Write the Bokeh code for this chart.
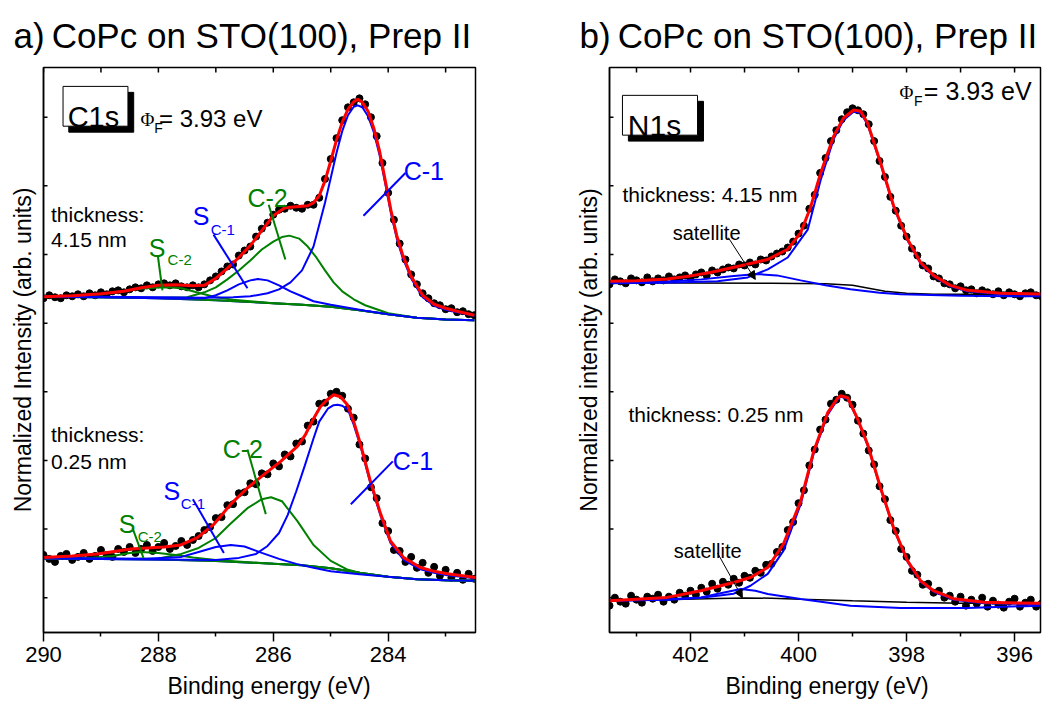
from bokeh.plotting import figure
from bokeh.models import Range1d, FixedTicker, Arrow, NormalHead, Title
from bokeh.layouts import row
from bokeh.embed import file_html
from bokeh.resources import INLINE
from bokeh.core.properties import value

FONT = "Liberation Sans"

# ---------------- C1s panel (a) ----------------
E_C = [290.0, 289.9, 289.8, 289.7, 289.6, 289.5, 289.4, 289.3, 289.2, 289.1,
       289.0, 288.9, 288.8, 288.7, 288.6, 288.5, 288.4, 288.3, 288.2, 288.1,
       288.0, 287.9, 287.8, 287.7, 287.6, 287.5, 287.4, 287.3, 287.2, 287.1,
       287.0, 286.9, 286.8, 286.7, 286.6, 286.5, 286.4, 286.3, 286.2, 286.1,
       286.0, 285.9, 285.8, 285.7, 285.6, 285.5, 285.4, 285.3, 285.2, 285.1,
       285.0, 284.9, 284.8, 284.7, 284.6, 284.5, 284.4, 284.3, 284.2, 284.1,
       284.0, 283.9, 283.8, 283.7, 283.6, 283.5, 283.4, 283.3, 283.2, 283.1,
       283.0, 282.9, 282.8, 282.7, 282.6, 282.5]

C_TOP_DATA = [3.36, 3.39, 3.37, 3.36, 3.39, 3.38, 3.40, 3.38, 3.41, 3.39,
              3.42, 3.40, 3.43, 3.44, 3.42, 3.45, 3.47, 3.46, 3.49, 3.47,
              3.50, 3.51, 3.49, 3.51, 3.48, 3.47, 3.49, 3.47, 3.50, 3.54,
              3.58, 3.63, 3.68, 3.70, 3.79, 3.84, 3.88, 3.98, 4.06, 4.12,
              4.20, 4.25, 4.26, 4.29, 4.27, 4.26, 4.30, 4.30, 4.37, 4.56,
              4.76, 4.97, 5.15, 5.28, 5.33, 5.37, 5.31, 5.18, 4.99, 4.72,
              4.42, 4.15, 3.91, 3.75, 3.60, 3.50, 3.41, 3.36, 3.31, 3.29,
              3.25, 3.26, 3.22, 3.23, 3.20, 3.19]

C_BOT_DATA = [0.78, 0.74, 0.71, 0.77, 0.79, 0.73, 0.76, 0.80, 0.74, 0.77,
              0.83, 0.78, 0.76, 0.84, 0.81, 0.86, 0.80, 0.84, 0.88, 0.82,
              0.86, 0.90, 0.84, 0.87, 0.92, 0.88, 0.93, 0.97, 1.03, 1.06,
              1.15, 1.16, 1.28, 1.29, 1.40, 1.41, 1.50, 1.49, 1.60, 1.59,
              1.70, 1.67, 1.79, 1.77, 1.90, 1.92, 2.08, 2.12, 2.30, 2.31,
              2.40, 2.42, 2.38, 2.25, 2.16, 1.89, 1.75, 1.46, 1.35, 1.10,
              1.02, 0.83, 0.82, 0.71, 0.76, 0.65, 0.70, 0.60, 0.66, 0.57,
              0.63, 0.55, 0.60, 0.53, 0.59, 0.54]

# fit envelope and components, thickness 4.15 nm
C_TOP_FIT_E = [290.0, 289.5, 289.0, 288.6, 288.3, 288.0, 287.7, 287.4, 287.2, 287.0,
               286.8, 286.6, 286.4, 286.2, 286.0, 285.8, 285.6, 285.4, 285.3, 285.2,
               285.1, 285.0, 284.9, 284.8, 284.7, 284.6, 284.53, 284.45, 284.35, 284.25,
               284.15, 284.05, 283.95, 283.85, 283.75, 283.6, 283.4, 283.2, 283.0, 282.8, 282.5]
C_TOP_FIT = [3.375, 3.385, 3.405, 3.43, 3.465, 3.49, 3.495, 3.485, 3.49, 3.56,
             3.66, 3.77, 3.89, 4.04, 4.19, 4.27, 4.28, 4.29, 4.32, 4.39,
             4.54, 4.74, 4.95, 5.13, 5.26, 5.335, 5.36, 5.33, 5.24, 5.07,
             4.84, 4.54, 4.24, 3.99, 3.80, 3.58, 3.39, 3.30, 3.26, 3.23, 3.19]
C_TOP_BG_E = [290.0, 289.0, 288.0, 287.0, 286.5, 286.0, 285.5, 285.0, 284.5, 284.0, 283.5, 283.0, 282.5]
C_TOP_BG = [3.375, 3.37, 3.36, 3.34, 3.325, 3.31, 3.295, 3.275, 3.24, 3.20, 3.165, 3.147, 3.14]
C_TOP_C1_E = [290.0, 289.0, 288.0, 287.2, 286.7, 286.4, 286.1, 285.9, 285.7, 285.5,
              285.3, 285.2, 285.1, 285.0, 284.9, 284.8, 284.7, 284.6, 284.53, 284.45,
              284.35, 284.25, 284.15, 284.05, 283.95, 283.85, 283.75, 283.6, 283.4, 283.2,
              283.0, 282.8, 282.5]
C_TOP_C1 = [3.378, 3.375, 3.37, 3.365, 3.37, 3.38, 3.41, 3.45, 3.52, 3.64,
            3.88, 4.10, 4.32, 4.57, 4.82, 5.04, 5.20, 5.285, 5.30, 5.28,
            5.19, 5.03, 4.80, 4.51, 4.21, 3.96, 3.77, 3.56, 3.37, 3.285,
            3.245, 3.22, 3.185]
C_TOP_C2_E = [290.0, 289.0, 288.0, 287.5, 287.2, 287.0, 286.8, 286.6, 286.4, 286.2,
              286.0, 285.85, 285.72, 285.55, 285.4, 285.25, 285.1, 284.95, 284.8, 284.6,
              284.4, 284.2, 284.0, 283.5, 283.0, 282.5]
C_TOP_C2 = [3.375, 3.37, 3.365, 3.37, 3.42, 3.47, 3.55, 3.64, 3.74, 3.85,
            3.93, 3.975, 3.99, 3.96, 3.88, 3.77, 3.64, 3.52, 3.43, 3.35,
            3.29, 3.25, 3.21, 3.165, 3.147, 3.14]
C_TOP_SC1_E = [290.0, 289.0, 288.0, 287.6, 287.2, 287.0, 286.8, 286.6, 286.4, 286.27,
               286.1, 285.9, 285.7, 285.5, 285.3, 285.0, 284.7, 284.4, 284.0, 283.5,
               283.0, 282.5]
C_TOP_SC1 = [3.375, 3.37, 3.36, 3.355, 3.36, 3.39, 3.44, 3.50, 3.54, 3.553,
             3.54, 3.49, 3.43, 3.38, 3.33, 3.295, 3.265, 3.235, 3.20, 3.165,
             3.147, 3.14]
C_TOP_SC2_E = [290.0, 289.4, 289.0, 288.7, 288.4, 288.2, 288.0, 287.84, 287.6, 287.4,
               287.2, 287.0, 286.7, 286.3, 286.0, 285.5, 285.0, 284.5, 284.0, 283.5,
               283.0, 282.5]
C_TOP_SC2 = [3.375, 3.385, 3.40, 3.425, 3.45, 3.46, 3.468, 3.47, 3.46, 3.43,
             3.40, 3.37, 3.345, 3.325, 3.31, 3.295, 3.275, 3.24, 3.20, 3.165,
             3.147, 3.14]

# fit envelope and components, thickness 0.25 nm
C_BOT_FIT_E = [290.0, 289.5, 289.06, 288.48, 287.9, 287.61, 287.32, 287.03, 286.74, 286.45,
               286.16, 285.87, 285.58, 285.44, 285.3, 285.18, 285.06, 284.95, 284.83, 284.71,
               284.6, 284.48, 284.31, 284.13, 283.96, 283.73, 283.44, 283.2, 282.97, 282.48]
C_BOT_FIT = [0.753, 0.77, 0.79, 0.84, 0.86, 0.88, 0.953, 1.09, 1.29, 1.453,
             1.59, 1.72, 1.87, 1.99, 2.15, 2.27, 2.34, 2.39, 2.37, 2.29,
             2.12, 1.89, 1.52, 1.19, 0.92, 0.753, 0.653, 0.615, 0.59, 0.553]
C_BOT_BG_E = [290.0, 288.0, 287.0, 286.0, 285.5, 285.0, 284.5, 284.0, 283.5, 283.0, 282.5]
C_BOT_BG = [0.745, 0.735, 0.72, 0.69, 0.675, 0.645, 0.60, 0.56, 0.535, 0.525, 0.52]
C_BOT_C1_E = [290.0, 288.0, 287.0, 286.6, 286.3, 286.1, 285.9, 285.75, 285.6, 285.45,
              285.3, 285.2, 285.05, 284.95, 284.88, 284.8, 284.7, 284.6, 284.48, 284.31,
              284.13, 283.96, 283.73, 283.44, 283.2, 282.97, 282.48]
C_BOT_C1 = [0.745, 0.735, 0.73, 0.75, 0.79, 0.87, 1.0, 1.18, 1.42, 1.68,
            1.95, 2.12, 2.25, 2.285, 2.29, 2.28, 2.24, 2.09, 1.87, 1.50,
            1.17, 0.90, 0.73, 0.635, 0.60, 0.575, 0.545]
C_BOT_C2_E = [290.0, 288.5, 288.0, 287.6, 287.3, 287.0, 286.75, 286.45, 286.2, 286.04,
              285.85, 285.58, 285.3, 285.0, 284.7, 284.4, 284.0, 283.5, 283.0, 282.5]
C_BOT_C2 = [0.745, 0.74, 0.745, 0.79, 0.85, 0.95, 1.09, 1.25, 1.34, 1.36,
            1.32, 1.12, 0.88, 0.72, 0.63, 0.585, 0.56, 0.535, 0.525, 0.52]
C_BOT_SC1_E = [290.0, 288.2, 287.6, 287.3, 287.0, 286.74, 286.5, 286.2, 285.9, 285.6,
               285.3, 285.0, 284.5, 284.0, 283.5, 283.0, 282.5]
C_BOT_SC1 = [0.748, 0.742, 0.76, 0.81, 0.86, 0.88, 0.865, 0.80, 0.74, 0.69,
             0.65, 0.615, 0.585, 0.56, 0.535, 0.525, 0.52]
C_BOT_SC2_E = [290.0, 289.2, 288.8, 288.5, 288.3, 288.0, 287.7, 287.4, 287.0, 286.5,
               286.0, 285.5, 285.0, 284.5, 284.0, 283.5, 283.0, 282.5]
C_BOT_SC2 = [0.745, 0.75, 0.77, 0.80, 0.81, 0.80, 0.78, 0.755, 0.73, 0.71,
             0.69, 0.675, 0.645, 0.60, 0.56, 0.535, 0.525, 0.52]

# ---------------- N1s panel (b) ----------------
E_N = [403.5, 403.4, 403.3, 403.2, 403.1, 403.0, 402.9, 402.8, 402.7, 402.6,
       402.5, 402.4, 402.3, 402.2, 402.1, 402.0, 401.9, 401.8, 401.7, 401.6,
       401.5, 401.4, 401.3, 401.2, 401.1, 401.0, 400.9, 400.8, 400.7, 400.6,
       400.5, 400.4, 400.3, 400.2, 400.1, 400.0, 399.9, 399.8, 399.7, 399.6,
       399.5, 399.4, 399.3, 399.2, 399.1, 399.0, 398.9, 398.8, 398.7, 398.6,
       398.5, 398.4, 398.3, 398.2, 398.1, 398.0, 397.9, 397.8, 397.7, 397.6,
       397.5, 397.4, 397.3, 397.2, 397.1, 397.0, 396.9, 396.8, 396.7, 396.6,
       396.5, 396.4, 396.3, 396.2, 396.1, 396.0, 395.9, 395.8, 395.7, 395.6,
       395.5]

N_TOP_DATA = [3.50, 3.55, 3.53, 3.51, 3.56, 3.54, 3.52, 3.57, 3.53, 3.56,
              3.54, 3.58, 3.55, 3.57, 3.59, 3.56, 3.60, 3.62, 3.59, 3.64,
              3.62, 3.65, 3.67, 3.66, 3.70, 3.69, 3.72, 3.70, 3.75, 3.74,
              3.78, 3.81, 3.83, 3.87, 3.93, 4.01, 4.09, 4.26, 4.40, 4.62,
              4.77, 4.94, 5.05, 5.16, 5.23, 5.27, 5.25, 5.21, 5.11, 4.94,
              4.74, 4.58, 4.38, 4.24, 4.09, 3.98, 3.86, 3.79, 3.69, 3.66,
              3.58, 3.56, 3.51, 3.50, 3.46, 3.48, 3.44, 3.45, 3.41, 3.44,
              3.42, 3.40, 3.43, 3.39, 3.42, 3.40, 3.38, 3.41, 3.42, 3.39,
              3.38]

N_BOT_DATA = [0.27, 0.35, 0.31, 0.29, 0.37, 0.33, 0.30, 0.36, 0.34, 0.38,
              0.31, 0.36, 0.33, 0.40, 0.37, 0.42, 0.38, 0.45, 0.41, 0.49,
              0.44, 0.51, 0.48, 0.54, 0.50, 0.57, 0.55, 0.62, 0.60, 0.68,
              0.69, 0.81, 0.86, 1.03, 1.11, 1.30, 1.43, 1.68, 1.84, 2.04,
              2.14, 2.30, 2.34, 2.40, 2.36, 2.29, 2.13, 2.00, 1.83, 1.69,
              1.47, 1.34, 1.13, 1.02, 0.84, 0.76, 0.62, 0.58, 0.48, 0.49,
              0.40, 0.42, 0.35, 0.37, 0.31, 0.36, 0.27, 0.33, 0.29, 0.35,
              0.26, 0.32, 0.28, 0.25, 0.31, 0.34, 0.26, 0.30, 0.33, 0.26,
              0.29]

N_TOP_FIT_E = [403.5, 403.0, 402.43, 402.0, 401.63, 401.07, 400.57, 400.2, 399.96, 399.78,
               399.59, 399.35, 399.17, 398.98, 398.85, 398.72, 398.48, 398.24, 397.98, 397.74,
               397.5, 397.19, 396.87, 396.26, 395.52]
N_TOP_FIT = [3.53, 3.535, 3.553, 3.585, 3.62, 3.687, 3.75, 3.853, 4.02, 4.27,
             4.62, 4.99, 5.17, 5.253, 5.24, 5.12, 4.72, 4.29, 3.95, 3.72,
             3.59, 3.49, 3.44, 3.41, 3.403]
N_TOP_MAIN_E = [403.5, 402.5, 401.5, 400.94, 400.57, 400.2, 399.83, 399.59, 399.35, 399.17,
                398.98, 398.85, 398.72, 398.48, 398.24, 397.98, 397.74, 397.5, 397.19, 396.87,
                396.26, 395.52]
N_TOP_MAIN = [3.51, 3.515, 3.53, 3.57, 3.65, 3.77, 4.05, 4.55, 4.96, 5.15,
              5.235, 5.225, 5.105, 4.71, 4.28, 3.94, 3.71, 3.58, 3.48, 3.43,
              3.40, 3.395]
N_TOP_SAT_E = [403.5, 402.5, 401.8, 401.2, 400.76, 400.4, 399.96, 399.5, 399.04, 398.5,
               398.11, 397.0, 396.0, 395.52]
N_TOP_SAT = [3.515, 3.525, 3.55, 3.585, 3.603, 3.59, 3.54, 3.49, 3.45, 3.415,
             3.40, 3.385, 3.38, 3.38]
N_TOP_BG_E = [403.5, 400.5, 399.5, 399.0, 398.7, 398.4, 398.0, 397.5, 395.52]
N_TOP_BG = [3.515, 3.512, 3.505, 3.49, 3.46, 3.43, 3.41, 3.40, 3.40]

N_BOT_FIT_E = [403.5, 402.43, 401.81, 401.2, 400.89, 400.57, 400.28, 399.96, 399.72, 399.46,
               399.28, 399.22, 399.09, 398.91, 398.72, 398.48, 398.24, 397.98, 397.74, 397.5,
               397.13, 396.57, 395.52]
N_BOT_FIT = [0.32, 0.353, 0.42, 0.503, 0.553, 0.653, 0.89, 1.32, 1.82, 2.21,
             2.353, 2.38, 2.36, 2.153, 1.89, 1.453, 1.053, 0.72, 0.52, 0.42,
             0.34, 0.303, 0.293]
N_BOT_MAIN_E = [403.5, 402.4, 401.8, 401.2, 400.89, 400.57, 400.28, 399.96, 399.72, 399.46,
                399.28, 399.22, 399.09, 398.91, 398.72, 398.48, 398.24, 397.98, 397.74, 397.5,
                397.13, 396.57, 395.52]
N_BOT_MAIN = [0.32, 0.33, 0.35, 0.39, 0.47, 0.59, 0.82, 1.29, 1.80, 2.19,
              2.34, 2.37, 2.35, 2.145, 1.88, 1.445, 1.045, 0.71, 0.51, 0.41,
              0.33, 0.295, 0.285]
N_BOT_SAT_E = [403.5, 402.4, 401.81, 401.4, 401.07, 400.8, 400.57, 399.96, 399.04, 398.11,
               396.87, 395.52]
N_BOT_SAT = [0.32, 0.335, 0.353, 0.40, 0.437, 0.42, 0.387, 0.337, 0.27, 0.247,
             0.247, 0.27]
N_BOT_BG_E = [403.5, 402.5, 401.5, 401.0, 400.5, 399.96, 399.0, 398.0, 397.0, 395.52]
N_BOT_BG = [0.32, 0.33, 0.343, 0.347, 0.345, 0.335, 0.32, 0.305, 0.295, 0.293]

C_TICKS = [284, 286, 288, 290]
C_MINOR = [283, 285, 287, 289]
N_TICKS = [396, 398, 400, 402]
N_MINOR = [395, 397, 399, 401, 403]
Y_TICKS = [0.35, 1.04, 1.73, 2.42, 3.11, 3.80, 4.49, 5.18]

RED = "#FF0000"
BLUE = "#0000FF"
GREEN = "#008000"
Y0, Y1 = 0.0, 5.68
FRAME_W, FRAME_H = 432, 568


def make_panel(x0, x1, width, bl, br, title, ylabel, ticks, minor, xlabel_offset):
    p = figure(width=width, height=713, x_range=Range1d(x0, x1), y_range=Range1d(Y0, Y1),
               output_backend="svg", toolbar_location=None,
               min_border_left=bl, min_border_right=br, min_border_top=64, min_border_bottom=81)
    p.grid.visible = False
    p.outline_line_color = "black"
    p.outline_line_width = 1.5
    p.title.text = title
    p.title.text_font = FONT
    p.title.text_font_size = "35px"
    p.title.text_font_style = "normal"
    p.title.text_color = "black"
    p.title.align = "left"
    p.title.offset = -30
    p.title.standoff = 26

    xa = p.xaxis[0]
    xa.ticker = FixedTicker(ticks=ticks, minor_ticks=minor)
    xa.major_tick_out = 9
    xa.major_tick_in = 0
    xa.minor_tick_out = 4
    xa.minor_tick_in = 0
    xa.major_tick_line_width = 1.5
    xa.minor_tick_line_width = 1.5
    xa.axis_line_width = 1.5
    xa.major_label_text_font = FONT
    xa.major_label_text_font_size = "22px"
    xa.major_label_text_color = "black"
    xa.major_label_standoff = 5

    # x axis title (slightly right of centre, as in the original)
    xt = Title(text="Binding energy (eV)", text_font=FONT, text_font_size="23px",
               text_font_style="normal", text_color="black", align="left",
               offset=xlabel_offset, vertical_align="top", standoff=16)
    p.add_layout(xt, "below")

    ya = p.yaxis[0]
    ya.ticker = FixedTicker(ticks=[], minor_ticks=[])
    ya.axis_line_width = 1.5
    ya.axis_label = ylabel
    ya.axis_label_text_font = FONT
    ya.axis_label_text_font_size = "23px"
    ya.axis_label_text_font_style = "normal"
    ya.axis_label_text_color = "black"
    ya.axis_label_standoff = 8

    # inward ticks on the top edge and the left edge
    dy = 5 * (Y1 - Y0) / FRAME_H
    allx = ticks + minor
    p.segment(x0=allx, y0=[Y1] * len(allx), x1=allx, y1=[Y1 - dy] * len(allx),
              line_color="black", line_width=1.5)
    dx = 4 * (x0 - x1) / FRAME_W
    p.segment(x0=[x0] * len(Y_TICKS), y0=Y_TICKS, x1=[x0 - dx] * len(Y_TICKS), y1=Y_TICKS,
              line_color="black", line_width=1.5)
    return p


def labels(p, xs, ys, texts, color, size, font=FONT):
    p.text(x=xs, y=ys, text=texts, text_font=value(font), text_font_size=value(size),
           text_color=color, text_baseline="alphabetic", text_align="left")


# ---------------- panel a ----------------
pa = make_panel(290, 282.48, 545, 43, 70, "a)\u2009CoPc on STO(100), Prep II",
                "Normalized Intensity (arb. units)", C_TICKS, C_MINOR, 124)

pa.scatter(E_C, C_TOP_DATA, size=7, color="black")
pa.scatter(E_C, C_BOT_DATA, size=7, color="black")
for (ex, iy, col, lw) in [
    (C_TOP_BG_E, C_TOP_BG, BLUE, 2), (C_TOP_BG_E, C_TOP_BG, GREEN, 2),
    (C_TOP_SC2_E, C_TOP_SC2, GREEN, 2), (C_TOP_C2_E, C_TOP_C2, GREEN, 2),
    (C_TOP_SC1_E, C_TOP_SC1, BLUE, 2), (C_TOP_C1_E, C_TOP_C1, BLUE, 2),
    (C_TOP_FIT_E, C_TOP_FIT, RED, 3),
    (C_BOT_BG_E, C_BOT_BG, BLUE, 2), (C_BOT_BG_E, C_BOT_BG, GREEN, 2),
    (C_BOT_SC2_E, C_BOT_SC2, GREEN, 2), (C_BOT_C2_E, C_BOT_C2, GREEN, 2),
    (C_BOT_SC1_E, C_BOT_SC1, BLUE, 2), (C_BOT_C1_E, C_BOT_C1, BLUE, 2),
    (C_BOT_FIT_E, C_BOT_FIT, RED, 3)]:
    pa.line(ex, iy, line_color=col, line_width=lw)

# leader lines
pa.segment(x0=[283.70, 283.92], y0=[4.62, 1.72], x1=[284.43, 284.65], y1=[4.19, 1.29],
           line_color=BLUE, line_width=2)
pa.segment(x0=[287.04, 287.40], y0=[4.00, 1.34], x1=[286.45, 286.86], y1=[3.46, 0.80],
           line_color=BLUE, line_width=2)
pa.segment(x0=[286.08, 286.45], y0=[4.30, 1.84], x1=[285.79, 286.13], y1=[3.75, 1.19],
           line_color=GREEN, line_width=2)
pa.segment(x0=[288.01, 288.45], y0=[3.79, 1.05], x1=[287.93, 288.26], y1=[3.44, 0.75],
           line_color=GREEN, line_width=2)

labels(pa, [283.73, 283.92], [4.64, 1.72], ["C-1", "C-1"], BLUE, "25px")
labels(pa, [286.45, 286.88], [4.37, 1.84], ["C-2", "C-2"], GREEN, "25px")
labels(pa, [287.40, 287.91], [4.19, 1.42], ["S", "S"], BLUE, "25px")
labels(pa, [287.09, 287.61], [4.05, 1.30], ["C-1", "C-1"], BLUE, "15px")
labels(pa, [288.17, 288.69], [3.87, 1.09], ["S", "S"], GREEN, "25px")
labels(pa, [287.84, 288.36], [3.75, 0.97], ["C-2", "C-2"], GREEN, "15px")
labels(pa, [289.87, 289.87, 289.87, 289.87], [4.20, 3.95, 1.99, 1.72],
       ["thickness:", "4.15 nm", "thickness:", "0.25 nm"], "black", "21px")

# C1s box with shadow
pa.quad(left=[289.56], right=[288.43], top=[5.43], bottom=[5.03], fill_color="black", line_color="black")
pa.quad(left=[289.66], right=[288.53], top=[5.49], bottom=[5.09], fill_color="white",
        line_color="black", line_width=1)
labels(pa, [289.58], [5.185], ["C1s"], "black", "29px")
labels(pa, [288.31], [5.16], ["\u03a6"], "black", "19px", "Liberation Serif")
labels(pa, [288.07], [5.07], ["F"], "black", "14px")
labels(pa, [287.99], [5.17], ["= 3.93 eV"], "black", "24px")

# ---------------- panel b ----------------
pb = make_panel(403.5, 395.52, 497, 64, 2, "b)\u2009CoPc on STO(100), Prep II",
                "Normalized intensity (arb. units)", N_TICKS, N_MINOR, 116)
pb.scatter(E_N, N_TOP_DATA, size=7, color="black")
pb.scatter(E_N, N_BOT_DATA, size=7, color="black")
for (ex, iy, col, lw) in [
    (N_TOP_BG_E, N_TOP_BG, "black", 1.5), (N_TOP_SAT_E, N_TOP_SAT, BLUE, 2),
    (N_TOP_MAIN_E, N_TOP_MAIN, BLUE, 2), (N_TOP_FIT_E, N_TOP_FIT, RED, 3),
    (N_BOT_BG_E, N_BOT_BG, "black", 1.5), (N_BOT_SAT_E, N_BOT_SAT, BLUE, 2),
    (N_BOT_MAIN_E, N_BOT_MAIN, BLUE, 2), (N_BOT_FIT_E, N_BOT_FIT, RED, 3)]:
    pb.line(ex, iy, line_color=col, line_width=lw)

labels(pb, [403.26, 403.15], [4.40, 2.19], ["thickness: 4.15 nm", "thickness: 0.25 nm"], "black", "21px")
labels(pb, [402.33, 402.31], [4.02, 0.82], ["satellite", "satellite"], "black", "20px")
for (xs, ys, xe, ye) in [(401.30, 3.97, 400.80, 3.55), (401.50, 0.80, 401.04, 0.35)]:
    pb.add_layout(Arrow(end=NormalHead(size=8, fill_color="black", line_color="black"),
                        x_start=xs, y_start=ys, x_end=xe, y_end=ye,
                        line_color="black", line_width=1))

pb.quad(left=[403.15], right=[401.76], top=[5.34], bottom=[4.94], fill_color="black", line_color="black")
pb.quad(left=[403.26], right=[401.87], top=[5.40], bottom=[5.00], fill_color="white",
        line_color="black", line_width=1)
labels(pb, [403.16], [5.10], ["N1s"], "black", "30px")
labels(pb, [398.13], [5.43], ["\u03a6"], "black", "19px", "Liberation Serif")
labels(pb, [397.86], [5.34], ["F"], "black", "14px")
labels(pb, [397.68], [5.44], ["= 3.93 eV"], "black", "25px")

layout = row(pa, pb)
open("out.html", "w").write(file_html(layout, INLINE))
